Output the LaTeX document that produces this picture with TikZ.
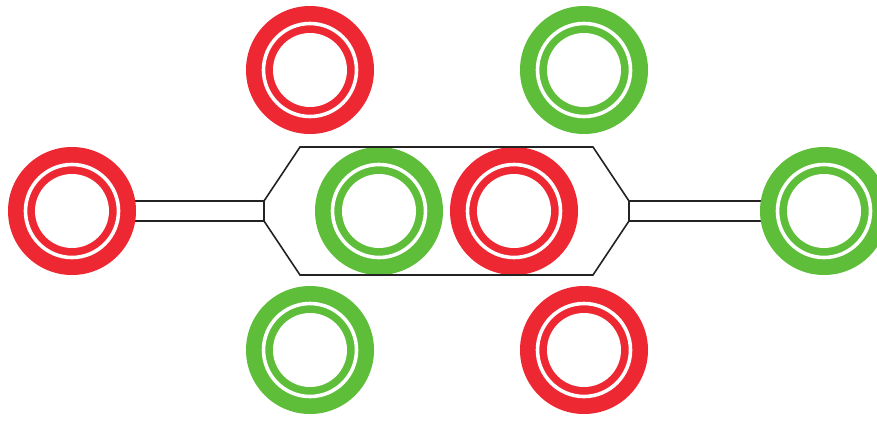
\documentclass[tikz,border=0pt]{standalone}
\usetikzlibrary{backgrounds}
\definecolor{ringred}{RGB}{237,40,50}
\definecolor{ringgreen}{RGB}{94,190,58}
\definecolor{linegray}{RGB}{35,35,35}
\begin{document}
\begin{tikzpicture}[x=1pt,y=-1pt,
  ring/.style={circle, minimum size=128pt, inner sep=0pt, fill=#1, path picture={
    \draw[white, line width=3.6pt] (path picture bounding box.center) circle[radius=46.5pt];
    \fill[white] (path picture bounding box.center) circle[radius=37pt];}},
  bond/.style={draw=linegray, line width=1.6pt, double=white, double distance=18.4pt},
  hexline/.style={draw=linegray, line width=1.6pt, line join=miter}]
\useasboundingbox (0,0) rectangle (877,421);
\node[ring=ringred] (tl) at (310,70) {};
\node[ring=ringgreen] (tr) at (584,70) {};
\node[ring=ringred] (l) at (72,211) {};
\node[ring=ringgreen] (cg) at (379,211) {};
\node[ring=ringred] (cr) at (514,211) {};
\node[ring=ringgreen] (r) at (824,211) {};
\node[ring=ringgreen] (bl) at (310,350) {};
\node[ring=ringred] (br) at (584,350) {};
\coordinate (hl) at (264,211);
\coordinate (hr) at (629,211);
\begin{scope}[on background layer]
  \draw[bond] (l.center) -- (hl);
  \draw[bond] (hr) -- (r.center);
\end{scope}
\draw[hexline] (264,201) -- (300,147) -- (593,147) -- (629,201) -- (629,221)
  -- (593,275) -- (300,275) -- (264,221) -- cycle;
\end{tikzpicture}
\end{document}
